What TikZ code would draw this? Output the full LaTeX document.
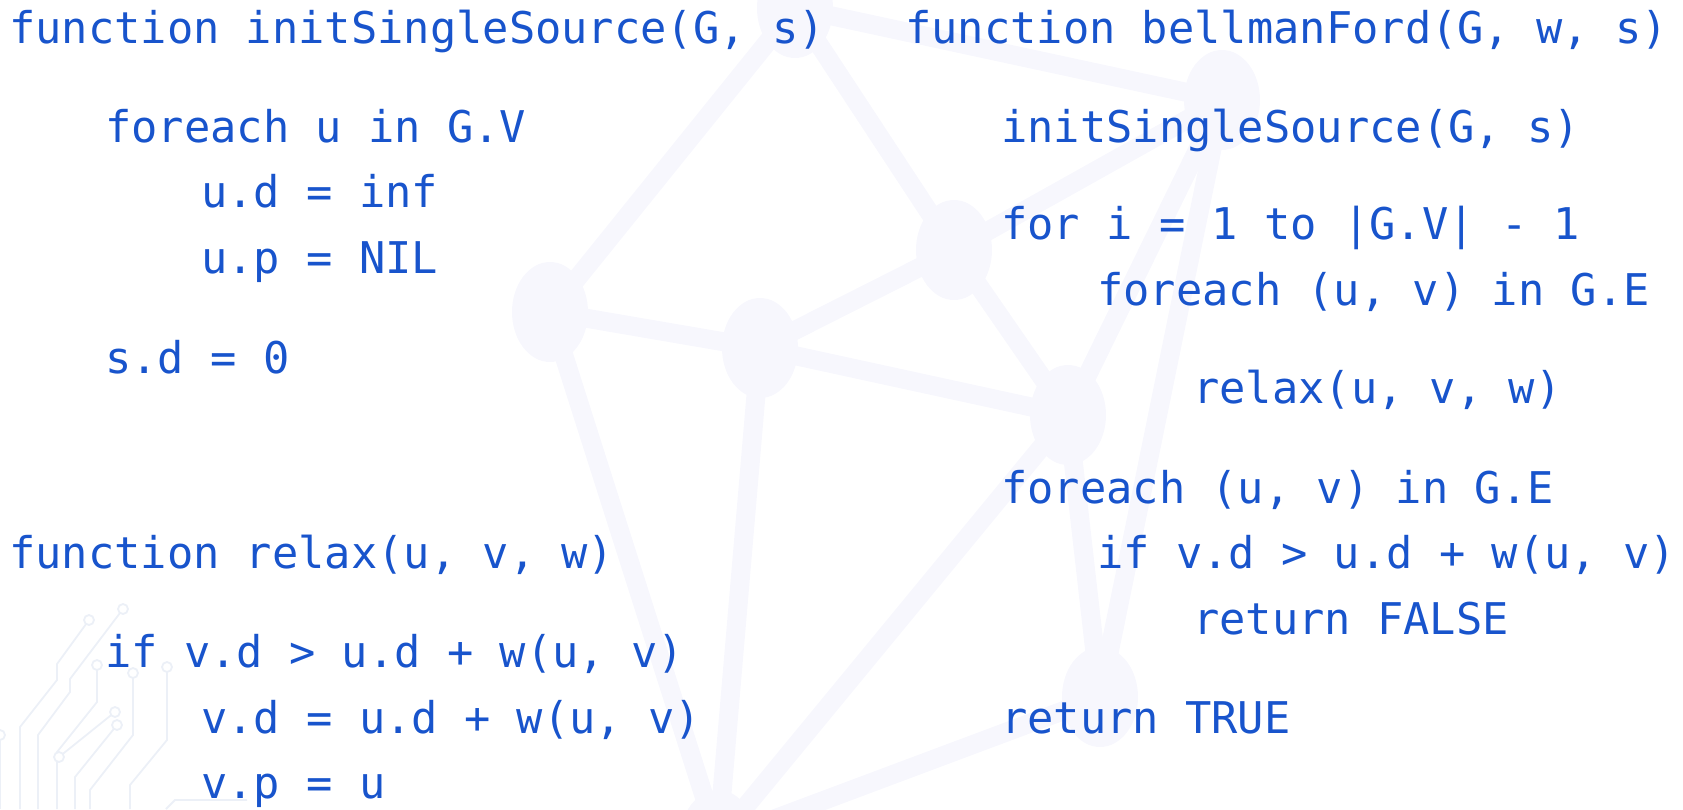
\documentclass[tikz,border=0pt]{standalone}
\usepackage{fontspec}
\newfontfamily\codefont{DejaVu Sans Mono}
\usetikzlibrary{shapes.geometric}
\definecolor{codeblue}{RGB}{24,84,204}
\definecolor{haze}{RGB}{247,247,253}
\definecolor{circuit}{RGB}{236,240,247}
\tikzset{
  code/.style={anchor=base west,inner sep=0pt,text=codeblue,
    font=\codefont\fontsize{43.7}{52}\selectfont},
  vertex/.style={ellipse,fill=haze,minimum width=76pt,minimum height=100pt,inner sep=0pt},
  link/.style={draw=haze,line width=19pt},
  trace/.style={draw=circuit,line width=1.8pt},
  pad/.style={draw=circuit,line width=1.8pt,fill=white},
}
\begin{document}
\begin{tikzpicture}[x=1pt,y=-1pt]
  \useasboundingbox (0,0) rectangle (1683,809);
  % faint graph behind the code
  \node[vertex] (gt) at (795,8) {};
  \node[vertex] (ga) at (550,312) {};
  \node[vertex] (gb) at (760,348) {};
  \node[vertex] (gc) at (954,250) {};
  \node[vertex] (gd) at (1068,415) {};
  \node[vertex] (ge) at (1222,100) {};
  \node[vertex] (gf) at (1100,697) {};
  \node[vertex] (gp) at (718,840) {};
  \foreach \a/\b in {gt/ga,gt/gc,gt/ge,ga/gb,gb/gc,gb/gd,gc/gd,gc/ge,gd/ge,gd/gf,ge/gf,ga/gp,gb/gp,gd/gp,gf/gp}
    \draw[link] (\a.center) -- (\b.center);
  % circuit traces
  \draw[trace] (123,609) -- (70,679) -- (70,692) -- (38,735) -- (38,809);
  \draw[trace] (89,620) -- (57,664) -- (57,680) -- (20,727) -- (20,809);
  \draw[trace] (97,665) -- (97,702) -- (57,752) -- (57,809);
  \draw[trace] (133,673) -- (133,735) -- (90,790) -- (90,809);
  \draw[trace] (167,667) -- (167,740) -- (130,785) -- (130,809);
  \draw[trace] (115,712) -- (59,757);
  \draw[trace] (117,725) -- (75,777) -- (75,809);
  \draw[trace] (0,735) -- (0,809);
  \draw[trace] (247,800) -- (175,800) -- (166,809);
  \foreach \p in {(123,609),(89,620),(97,665),(133,673),(167,667),(115,712),(59,757),(117,725),(0,735)}
    \draw[pad] \p circle (5pt);

  \node[code] (isshead) at (9,43) {function initSingleSource(G, s)};
  \node[code] (issloop) at (105,142) {foreach u in G.V};
  \node[code] (issd) at (201,207) {u.d = inf};
  \node[code] (issp) at (201,273) {u.p = NIL};
  \node[code] (isss) at (105,373) {s.d = 0};

  \node[code] (rlxhead) at (9,568) {function relax(u, v, w)};
  \node[code] (rlxif) at (105,667) {if v.d > u.d + w(u, v)};
  \node[code] (rlxd) at (201,733) {v.d = u.d + w(u, v)};
  \node[code] (rlxp) at (201,798) {v.p = u};

  \node[code] (bfhead) at (905,43) {function bellmanFord(G, w, s)};
  \node[code] (bfinit) at (1001,142) {initSingleSource(G, s)};
  \node[code] (bffor) at (1001,239) {for i = 1 to |G.V| - 1};
  \node[code] (bfedges) at (1097,305) {foreach (u, v) in G.E};
  \node[code] (bfrelax) at (1193,403) {relax(u, v, w)};
  \node[code] (bfcheck) at (1001,503) {foreach (u, v) in G.E};
  \node[code] (bfif) at (1097,568) {if v.d > u.d + w(u, v)};
  \node[code] (bffalse) at (1193,634) {return FALSE};
  \node[code] (bftrue) at (1001,733) {return TRUE};
\end{tikzpicture}
\end{document}
